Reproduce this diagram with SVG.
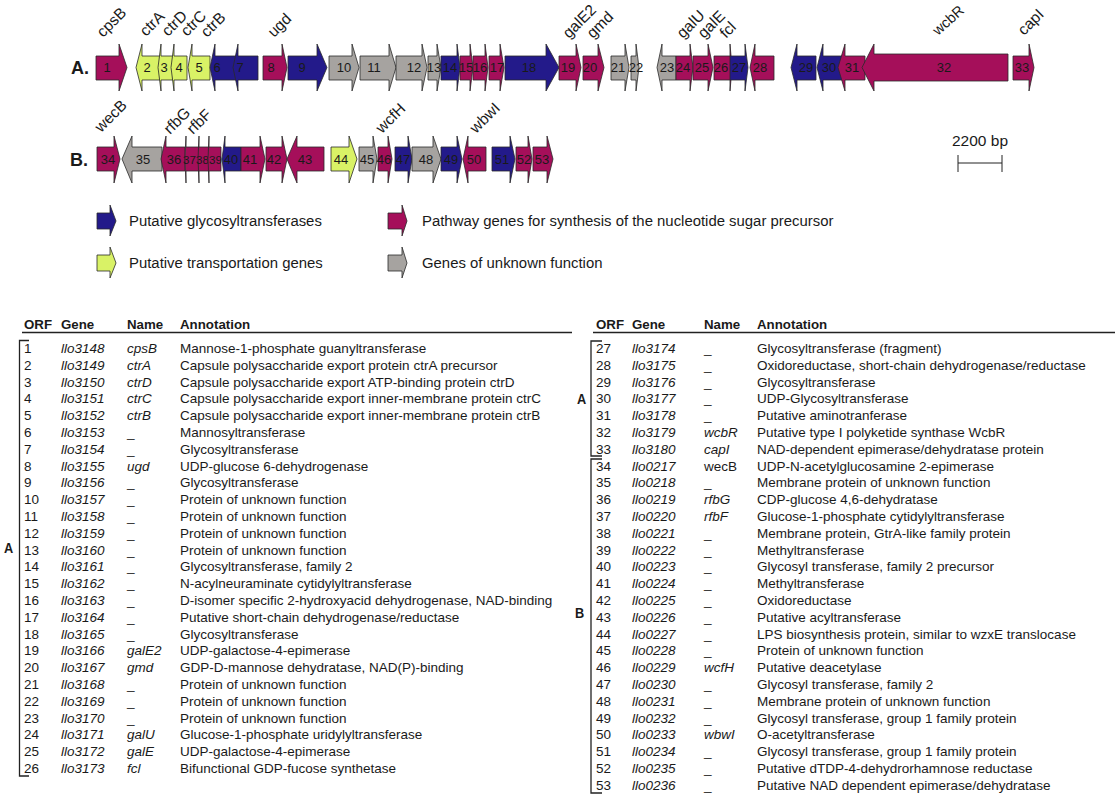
<svg xmlns="http://www.w3.org/2000/svg" width="1120" height="800" viewBox="0 0 1120 800">
<style>
text{font-family:"Liberation Sans",Arial,sans-serif;fill:#1a1a1a}
.g polygon,polygon.g{stroke:#2a2a2a;stroke-width:.8}
.m{fill:#a50f5a}.b{fill:#231a8a}.y{fill:#d9f266}.u{fill:#a6a3a0}
.n{font-size:13px;text-anchor:middle;fill:#1a1a1a}
.s{font-size:11.5px}
.l{font-size:15.5px}
.i{font-style:italic}
.t{font-size:13.5px}
.h{font-size:13.3px;font-weight:bold}
.r{font-size:18px;font-weight:bold}
.br{fill:none;stroke:#222;stroke-width:1.3}
.lg{font-size:14.9px}
</style>
<rect width="1120" height="800" fill="#fff"/>
<g id="labels-A" class="l">
<text transform="translate(103,38) rotate(-45)">cpsB</text>
<text transform="translate(146,37) rotate(-45)">ctrA</text>
<text transform="translate(168,37) rotate(-45)">ctrD</text>
<text transform="translate(187,37) rotate(-45)">ctrC</text>
<text transform="translate(207,38) rotate(-45)">ctrB</text>
<text transform="translate(274,38) rotate(-45)">ugd</text>
<text transform="translate(569,39) rotate(-45)">galE2</text>
<text transform="translate(593,39) rotate(-45)">gmd</text>
<text transform="translate(683,39) rotate(-45)">galU</text>
<text transform="translate(704,39) rotate(-45)">galE</text>
<text transform="translate(726,39) rotate(-45)">fcl</text>
<text font-size="14.5" transform="translate(938,36) rotate(-42)">wcbR</text>
<text transform="translate(1024,36) rotate(-45)">capI</text>
</g>
<text class="r" x="71" y="74">A.</text>
<g id="connectors"></g>
<g class="g">
<g id="g1"><polygon class="m" points="96,56 119,56 119,44 127,67.5 119,91 119,80 96,80"/><text class="n" x="107" y="72">1</text></g>
<g id="g2"><polygon class="y" points="160,56 142,56 142,44 136,67.5 142,91 142,80 160,80"/><text class="n" x="147" y="72">2</text></g>
<g id="g3"><polygon class="y" points="173,56 161,56 161,44 158,67.5 161,91 161,80 173,80"/><text class="n" x="164" y="72">3</text></g>
<g id="g4"><polygon class="y" points="187,56 174,56 174,44 171,67.5 174,91 174,80 187,80"/><text class="n" x="179" y="72">4</text></g>
<g id="g5"><polygon class="y" points="210,56 192,56 192,44 188,67.5 192,91 192,80 210,80"/><text class="n" x="199" y="72">5</text></g>
<g id="g6"><polygon class="b" points="237,56 215,56 215,44 210,67.5 215,91 215,80 237,80"/><text class="n" x="217" y="72">6</text></g>
<g id="g7"><polygon class="b" points="258,56 238,56 238,44 233,67.5 238,91 238,80 258,80"/><text class="n" x="240" y="72">7</text></g>
<g id="g8"><polygon class="m" points="263,56 282,56 282,44 287,67.5 282,91 282,80 263,80"/><text class="n" x="271" y="72">8</text></g>
<g id="g9"><polygon class="b" points="288,56 317,56 317,44 327,67.5 317,91 317,80 288,80"/><text class="n" x="302" y="72">9</text></g>
<g id="g10"><polygon class="u" points="329,56 352,56 352,44 359,67.5 352,91 352,80 329,80"/><text class="n" x="344" y="72">10</text></g>
<g id="g11"><polygon class="u" points="360,56 389,56 389,44 396,67.5 389,91 389,80 360,80"/><text class="n" x="374" y="72">11</text></g>
<g id="g12"><polygon class="u" points="396,56 422,56 422,44 427,67.5 422,91 422,80 396,80"/><text class="n" x="414" y="72">12</text></g>
<g id="g13"><polygon class="u" points="428,56 437,56 437,44 441,67.5 437,91 437,80 428,80"/><text class="n" x="434" y="72">13</text></g>
<g id="g14"><polygon class="b" points="441,56 457,56 457,44 460,67.5 457,91 457,80 441,80"/><text class="n" x="450" y="72">14</text></g>
<g id="g15"><polygon class="m" points="460,56 470,56 470,44 473,67.5 470,91 470,80 460,80"/><text class="n" x="466" y="72">15</text></g>
<g id="g16"><polygon class="m" points="473,56 485,56 485,44 488,67.5 485,91 485,80 473,80"/><text class="n" x="480" y="72">16</text></g>
<g id="g17"><polygon class="m" points="489,56 500,56 500,44 504,67.5 500,91 500,80 489,80"/><text class="n" x="497" y="72">17</text></g>
<g id="g18"><polygon class="b" points="505,56 546,56 546,44 559,67.5 546,91 546,80 505,80"/><text class="n" x="529" y="72">18</text></g>
<g id="g19"><polygon class="m" points="559,56 576,56 576,44 581,67.5 576,91 576,80 559,80"/><text class="n" x="568" y="72">19</text></g>
<g id="g20"><polygon class="m" points="583,56 598,56 598,44 604,67.5 598,91 598,80 583,80"/><text class="n" x="590" y="72">20</text></g>
<g id="g21"><polygon class="u" points="611,56 625,56 625,44 629,67.5 625,91 625,80 611,80"/><text class="n" x="618" y="72">21</text></g>
<g id="g22"><polygon class="u" points="631,56 636,56 636,44 639,67.5 636,91 636,80 631,80"/><text class="n" x="636" y="72">22</text></g>
<g id="g23"><polygon class="u" points="676,56 662,56 662,44 657,67.5 662,91 662,80 676,80"/><text class="n" x="667" y="72">23</text></g>
<g id="g24"><polygon class="m" points="676,56 690,56 690,44 693,67.5 690,91 690,80 676,80"/><text class="n" x="683" y="72">24</text></g>
<g id="g25"><polygon class="m" points="693,56 708,56 708,44 713,67.5 708,91 708,80 693,80"/><text class="n" x="702" y="72">25</text></g>
<g id="g26"><polygon class="m" points="714,56 730,56 730,44 732,67.5 730,91 730,80 714,80"/><text class="n" x="721" y="72">26</text></g>
<g id="g27"><polygon class="b" points="730,56 745,56 745,44 748,67.5 745,91 745,80 730,80"/><text class="n" x="739" y="72">27</text></g>
<g id="g28"><polygon class="m" points="774,56 755,56 755,44 750,67.5 755,91 755,80 774,80"/><text class="n" x="760" y="72">28</text></g>
<g id="g29"><polygon class="b" points="816,56 797,56 797,44 791,67.5 797,91 797,80 816,80"/><text class="n" x="806" y="72">29</text></g>
<g id="g30"><polygon class="b" points="843,56 823,56 823,44 817,67.5 823,91 823,80 843,80"/><text class="n" x="829" y="72">30</text></g>
<g id="g31"><polygon class="m" points="865,56 845,56 845,44 838,67.5 845,91 845,80 865,80"/><text class="n" x="852" y="72">31</text></g>
<g id="g32"><polygon class="m" points="1008,54 874,54 874,44 862,67.5 874,91 874,81 1008,81"/><text class="n" x="944" y="72">32</text></g>
<g id="g33"><polygon class="m" points="1013,56 1029,56 1029,44 1034,67.5 1029,91 1029,80 1013,80"/><text class="n" x="1022" y="72">33</text></g>
</g>
<g id="labels-B" class="l">
<text transform="translate(101,133) rotate(-45)">wecB</text>
<text transform="translate(170,135) rotate(-45)">rfbG</text>
<text transform="translate(193,135) rotate(-45)">rfbF</text>
<text transform="translate(382,134) rotate(-45)">wcfH</text>
<text transform="translate(476,134) rotate(-45)">wbwI</text>
</g>
<text class="r" x="70" y="166">B.</text>
<g class="g">
<g id="g34"><polygon class="m" points="97,147 114,147 114,136 120,159 114,183 114,171 97,171"/><text class="n" x="108" y="164">34</text></g>
<g id="g35"><polygon class="u" points="162,147 132,147 132,136 122,159 132,183 132,171 162,171"/><text class="n" x="143" y="164">35</text></g>
<g id="g36"><polygon class="m" points="185,147 166,147 166,136 161,159 166,183 166,171 185,171"/><text class="n" x="174" y="164">36</text></g>
<g id="g37"><polygon class="m" points="199,147 186,147 186,136 185,159 186,183 186,171 199,171"/><text class="n s" x="189.5" y="164">37</text></g>
<g id="g38"><polygon class="m" points="209,147 199,147 199,136 198,159 199,183 199,171 209,171"/><text class="n s" x="202.5" y="164">38</text></g>
<g id="g39"><polygon class="m" points="221,147 209,147 209,136 208,159 209,183 209,171 221,171"/><text class="n s" x="215.5" y="164">39</text></g>
<g id="g40"><polygon class="b" points="241,147 225,147 225,136 222,159 225,183 225,171 241,171"/><text class="n" x="231" y="164">40</text></g>
<g id="g41"><polygon class="m" points="241,147 260,147 260,136 265,159 260,183 260,171 241,171"/><text class="n" x="250" y="164">41</text></g>
<g id="g42"><polygon class="m" points="266,147 282,147 282,136 287,159 282,183 282,171 266,171"/><text class="n" x="274" y="164">42</text></g>
<g id="g43"><polygon class="m" points="324,147 297,147 297,136 287,159 297,183 297,171 324,171"/><text class="n" x="305" y="164">43</text></g>
<g id="g44"><polygon class="y" points="331,147 349,147 349,136 357,159 349,183 349,171 331,171"/><text class="n" x="341" y="164">44</text></g>
<g id="g45"><polygon class="u" points="359,147 373,147 373,136 377,159 373,183 373,171 359,171"/><text class="n" x="367" y="164">45</text></g>
<g id="g46"><polygon class="m" points="378,147 388,147 388,136 392,159 388,183 388,171 378,171"/><text class="n" x="384" y="164">46</text></g>
<g id="g47"><polygon class="b" points="395,147 408,147 408,136 412,159 408,183 408,171 395,171"/><text class="n" x="403" y="164">47</text></g>
<g id="g48"><polygon class="u" points="412,147 433,147 433,136 441,159 433,183 433,171 412,171"/><text class="n" x="426" y="164">48</text></g>
<g id="g49"><polygon class="b" points="441,147 457,147 457,136 462,159 457,183 457,171 441,171"/><text class="n" x="451" y="164">49</text></g>
<g id="g50"><polygon class="m" points="486,147 468,147 468,136 463,159 468,183 468,171 486,171"/><text class="n" x="474" y="164">50</text></g>
<g id="g51"><polygon class="b" points="492,147 510,147 510,136 515,159 510,183 510,171 492,171"/><text class="n" x="502" y="164">51</text></g>
<g id="g52"><polygon class="m" points="516,147 528,147 528,136 532,159 528,183 528,171 516,171"/><text class="n" x="524" y="164">52</text></g>
<g id="g53"><polygon class="m" points="533,147 547,147 547,136 553,159 547,183 547,171 533,171"/><text class="n" x="542" y="164">53</text></g>
</g>
<g id="scale">
<text x="980" y="146" class="l" text-anchor="middle">2200 bp</text>
<path d="M958 155V172M1002 155V172M958 163H1002" fill="none" stroke="#222" stroke-width="1"/>
</g>
<g id="legend" class="g">
<polygon class="b" points="97,213 110,213 110,205 116,221 110,236 110,229 97,229"/>
<text class="lg" x="129" y="226">Putative glycosyltransferases</text>
<polygon class="m" points="388,213 402,213 402,205 407,221 402,236 402,229 388,229"/>
<text class="lg" x="422" y="226">Pathway genes for synthesis of the nucleotide sugar precursor</text>
<polygon class="y" points="97,255 110,255 110,247 116,263 110,278 110,271 97,271"/>
<text class="lg" x="129" y="268">Putative transportation genes</text>
<polygon class="u" points="388,255 402,255 402,247 407,263 402,278 402,271 388,271"/>
<text class="lg" x="422" y="268">Genes of unknown function</text>
</g>
<g id="table-left">
<text class="h" y="329"><tspan x="24">ORF</tspan><tspan x="61">Gene</tspan><tspan x="127">Name</tspan><tspan x="180">Annotation</tspan></text>
<path d="M22 332.5H572" stroke="#222" stroke-width="1.4"/>
<path class="br" d="M29 340.5H19.5V776H29"/>
<text x="4" y="553" font-weight="bold" font-size="15" transform="translate(4,0) scale(.85,1) translate(-4,0)">A</text>
<g class="t">
<text y="353"><tspan x="24">1</tspan><tspan x="61" class="i">llo3148</tspan><tspan x="127" class="i">cpsB</tspan><tspan x="180">Mannose-1-phosphate guanyltransferase</tspan></text>
<text y="369.8"><tspan x="24">2</tspan><tspan x="61" class="i">llo3149</tspan><tspan x="127" class="i">ctrA</tspan><tspan x="180">Capsule polysaccharide export protein ctrA precursor</tspan></text>
<text y="386.6"><tspan x="24">3</tspan><tspan x="61" class="i">llo3150</tspan><tspan x="127" class="i">ctrD</tspan><tspan x="180">Capsule polysaccharide export ATP-binding protein ctrD</tspan></text>
<text y="403.4"><tspan x="24">4</tspan><tspan x="61" class="i">llo3151</tspan><tspan x="127" class="i">ctrC</tspan><tspan x="180">Capsule polysaccharide export inner-membrane protein ctrC</tspan></text>
<text y="420.2"><tspan x="24">5</tspan><tspan x="61" class="i">llo3152</tspan><tspan x="127" class="i">ctrB</tspan><tspan x="180">Capsule polysaccharide export inner-membrane protein ctrB</tspan></text>
<text y="437"><tspan x="24">6</tspan><tspan x="61" class="i">llo3153</tspan><tspan x="127">_</tspan><tspan x="180">Mannosyltransferase</tspan></text>
<text y="453.8"><tspan x="24">7</tspan><tspan x="61" class="i">llo3154</tspan><tspan x="127">_</tspan><tspan x="180">Glycosyltransferase</tspan></text>
<text y="470.6"><tspan x="24">8</tspan><tspan x="61" class="i">llo3155</tspan><tspan x="127" class="i">ugd</tspan><tspan x="180">UDP-glucose 6-dehydrogenase</tspan></text>
<text y="487.4"><tspan x="24">9</tspan><tspan x="61" class="i">llo3156</tspan><tspan x="127">_</tspan><tspan x="180">Glycosyltransferase</tspan></text>
<text y="504.2"><tspan x="24">10</tspan><tspan x="61" class="i">llo3157</tspan><tspan x="127">_</tspan><tspan x="180">Protein of unknown function</tspan></text>
<text y="521"><tspan x="24">11</tspan><tspan x="61" class="i">llo3158</tspan><tspan x="127">_</tspan><tspan x="180">Protein of unknown function</tspan></text>
<text y="537.8"><tspan x="24">12</tspan><tspan x="61" class="i">llo3159</tspan><tspan x="127">_</tspan><tspan x="180">Protein of unknown function</tspan></text>
<text y="554.6"><tspan x="24">13</tspan><tspan x="61" class="i">llo3160</tspan><tspan x="127">_</tspan><tspan x="180">Protein of unknown function</tspan></text>
<text y="571.4"><tspan x="24">14</tspan><tspan x="61" class="i">llo3161</tspan><tspan x="127">_</tspan><tspan x="180">Glycosyltransferase, family 2</tspan></text>
<text y="588.2"><tspan x="24">15</tspan><tspan x="61" class="i">llo3162</tspan><tspan x="127">_</tspan><tspan x="180">N-acylneuraminate cytidylyltransferase</tspan></text>
<text y="605"><tspan x="24">16</tspan><tspan x="61" class="i">llo3163</tspan><tspan x="127">_</tspan><tspan x="180">D-isomer specific 2-hydroxyacid dehydrogenase, NAD-binding</tspan></text>
<text y="621.8"><tspan x="24">17</tspan><tspan x="61" class="i">llo3164</tspan><tspan x="127">_</tspan><tspan x="180">Putative short-chain dehydrogenase/reductase</tspan></text>
<text y="638.6"><tspan x="24">18</tspan><tspan x="61" class="i">llo3165</tspan><tspan x="127">_</tspan><tspan x="180">Glycosyltransferase</tspan></text>
<text y="655.4"><tspan x="24">19</tspan><tspan x="61" class="i">llo3166</tspan><tspan x="127" class="i">galE2</tspan><tspan x="180">UDP-galactose-4-epimerase</tspan></text>
<text y="672.2"><tspan x="24">20</tspan><tspan x="61" class="i">llo3167</tspan><tspan x="127" class="i">gmd</tspan><tspan x="180">GDP-D-mannose dehydratase, NAD(P)-binding</tspan></text>
<text y="689"><tspan x="24">21</tspan><tspan x="61" class="i">llo3168</tspan><tspan x="127">_</tspan><tspan x="180">Protein of unknown function</tspan></text>
<text y="705.8"><tspan x="24">22</tspan><tspan x="61" class="i">llo3169</tspan><tspan x="127">_</tspan><tspan x="180">Protein of unknown function</tspan></text>
<text y="722.6"><tspan x="24">23</tspan><tspan x="61" class="i">llo3170</tspan><tspan x="127">_</tspan><tspan x="180">Protein of unknown function</tspan></text>
<text y="739.4"><tspan x="24">24</tspan><tspan x="61" class="i">llo3171</tspan><tspan x="127" class="i">galU</tspan><tspan x="180">Glucose-1-phosphate uridylyltransferase</tspan></text>
<text y="756.2"><tspan x="24">25</tspan><tspan x="61" class="i">llo3172</tspan><tspan x="127" class="i">galE</tspan><tspan x="180">UDP-galactose-4-epimerase</tspan></text>
<text y="773"><tspan x="24">26</tspan><tspan x="61" class="i">llo3173</tspan><tspan x="127" class="i">fcl</tspan><tspan x="180">Bifunctional GDP-fucose synthetase</tspan></text>
</g>
</g>
<g id="table-right">
<text class="h" y="329"><tspan x="596">ORF</tspan><tspan x="632">Gene</tspan><tspan x="704">Name</tspan><tspan x="757">Annotation</tspan></text>
<path d="M593 332.5H1115" stroke="#222" stroke-width="1.4"/>
<path class="br" d="M602 341H591V456H602"/>
<path class="br" d="M602 459H591V793H602"/>
<text x="577" y="404" font-weight="bold" font-size="15" transform="translate(577,0) scale(.85,1) translate(-577,0)">A</text>
<text x="575" y="618" font-weight="bold" font-size="15" transform="translate(575,0) scale(.85,1) translate(-575,0)">B</text>
<g class="t">
<text y="353"><tspan x="596">27</tspan><tspan x="632" class="i">llo3174</tspan><tspan x="704">_</tspan><tspan x="757">Glycosyltransferase (fragment)</tspan></text>
<text y="369.8"><tspan x="596">28</tspan><tspan x="632" class="i">llo3175</tspan><tspan x="704">_</tspan><tspan x="757">Oxidoreductase, short-chain dehydrogenase/reductase</tspan></text>
<text y="386.6"><tspan x="596">29</tspan><tspan x="632" class="i">llo3176</tspan><tspan x="704">_</tspan><tspan x="757">Glycosyltransferase</tspan></text>
<text y="403.4"><tspan x="596">30</tspan><tspan x="632" class="i">llo3177</tspan><tspan x="704">_</tspan><tspan x="757">UDP-Glycosyltransferase</tspan></text>
<text y="420.2"><tspan x="596">31</tspan><tspan x="632" class="i">llo3178</tspan><tspan x="704">_</tspan><tspan x="757">Putative aminotranferase</tspan></text>
<text y="437"><tspan x="596">32</tspan><tspan x="632" class="i">llo3179</tspan><tspan x="704" class="i">wcbR</tspan><tspan x="757">Putative type I polyketide synthase WcbR</tspan></text>
<text y="453.8"><tspan x="596">33</tspan><tspan x="632" class="i">llo3180</tspan><tspan x="704" class="i">capI</tspan><tspan x="757">NAD-dependent epimerase/dehydratase protein</tspan></text>
<text y="470.6"><tspan x="596">34</tspan><tspan x="632" class="i">llo0217</tspan><tspan x="704">wecB</tspan><tspan x="757">UDP-N-acetylglucosamine 2-epimerase</tspan></text>
<text y="487.4"><tspan x="596">35</tspan><tspan x="632" class="i">llo0218</tspan><tspan x="704">_</tspan><tspan x="757">Membrane protein of unknown function</tspan></text>
<text y="504.2"><tspan x="596">36</tspan><tspan x="632" class="i">llo0219</tspan><tspan x="704" class="i">rfbG</tspan><tspan x="757">CDP-glucose 4,6-dehydratase</tspan></text>
<text y="521"><tspan x="596">37</tspan><tspan x="632" class="i">llo0220</tspan><tspan x="704" class="i">rfbF</tspan><tspan x="757">Glucose-1-phosphate cytidylyltransferase</tspan></text>
<text y="537.8"><tspan x="596">38</tspan><tspan x="632" class="i">llo0221</tspan><tspan x="704">_</tspan><tspan x="757">Membrane protein, GtrA-like family protein</tspan></text>
<text y="554.6"><tspan x="596">39</tspan><tspan x="632" class="i">llo0222</tspan><tspan x="704">_</tspan><tspan x="757">Methyltransferase</tspan></text>
<text y="571.4"><tspan x="596">40</tspan><tspan x="632" class="i">llo0223</tspan><tspan x="704">_</tspan><tspan x="757">Glycosyl transferase, family 2 precursor</tspan></text>
<text y="588.2"><tspan x="596">41</tspan><tspan x="632" class="i">llo0224</tspan><tspan x="704">_</tspan><tspan x="757">Methyltransferase</tspan></text>
<text y="605"><tspan x="596">42</tspan><tspan x="632" class="i">llo0225</tspan><tspan x="704">_</tspan><tspan x="757">Oxidoreductase</tspan></text>
<text y="621.8"><tspan x="596">43</tspan><tspan x="632" class="i">llo0226</tspan><tspan x="704">_</tspan><tspan x="757">Putative acyltransferase</tspan></text>
<text y="638.6"><tspan x="596">44</tspan><tspan x="632" class="i">llo0227</tspan><tspan x="704">_</tspan><tspan x="757">LPS biosynthesis protein, similar to wzxE translocase</tspan></text>
<text y="655.4"><tspan x="596">45</tspan><tspan x="632" class="i">llo0228</tspan><tspan x="704">_</tspan><tspan x="757">Protein of unknown function</tspan></text>
<text y="672.2"><tspan x="596">46</tspan><tspan x="632" class="i">llo0229</tspan><tspan x="704" class="i">wcfH</tspan><tspan x="757">Putative deacetylase</tspan></text>
<text y="689"><tspan x="596">47</tspan><tspan x="632" class="i">llo0230</tspan><tspan x="704">_</tspan><tspan x="757">Glycosyl transferase, family 2</tspan></text>
<text y="705.8"><tspan x="596">48</tspan><tspan x="632" class="i">llo0231</tspan><tspan x="704">_</tspan><tspan x="757">Membrane protein of unknown function</tspan></text>
<text y="722.6"><tspan x="596">49</tspan><tspan x="632" class="i">llo0232</tspan><tspan x="704">_</tspan><tspan x="757">Glycosyl transferase, group 1 family protein</tspan></text>
<text y="739.4"><tspan x="596">50</tspan><tspan x="632" class="i">llo0233</tspan><tspan x="704" class="i">wbwI</tspan><tspan x="757">O-acetyltransferase</tspan></text>
<text y="756.2"><tspan x="596">51</tspan><tspan x="632" class="i">llo0234</tspan><tspan x="704">_</tspan><tspan x="757">Glycosyl transferase, group 1 family protein</tspan></text>
<text y="773"><tspan x="596">52</tspan><tspan x="632" class="i">llo0235</tspan><tspan x="704">_</tspan><tspan x="757">Putative dTDP-4-dehydrorhamnose reductase</tspan></text>
<text y="789.8"><tspan x="596">53</tspan><tspan x="632" class="i">llo0236</tspan><tspan x="704">_</tspan><tspan x="757">Putative NAD dependent epimerase/dehydratase</tspan></text>
</g>
</g>
</svg>
